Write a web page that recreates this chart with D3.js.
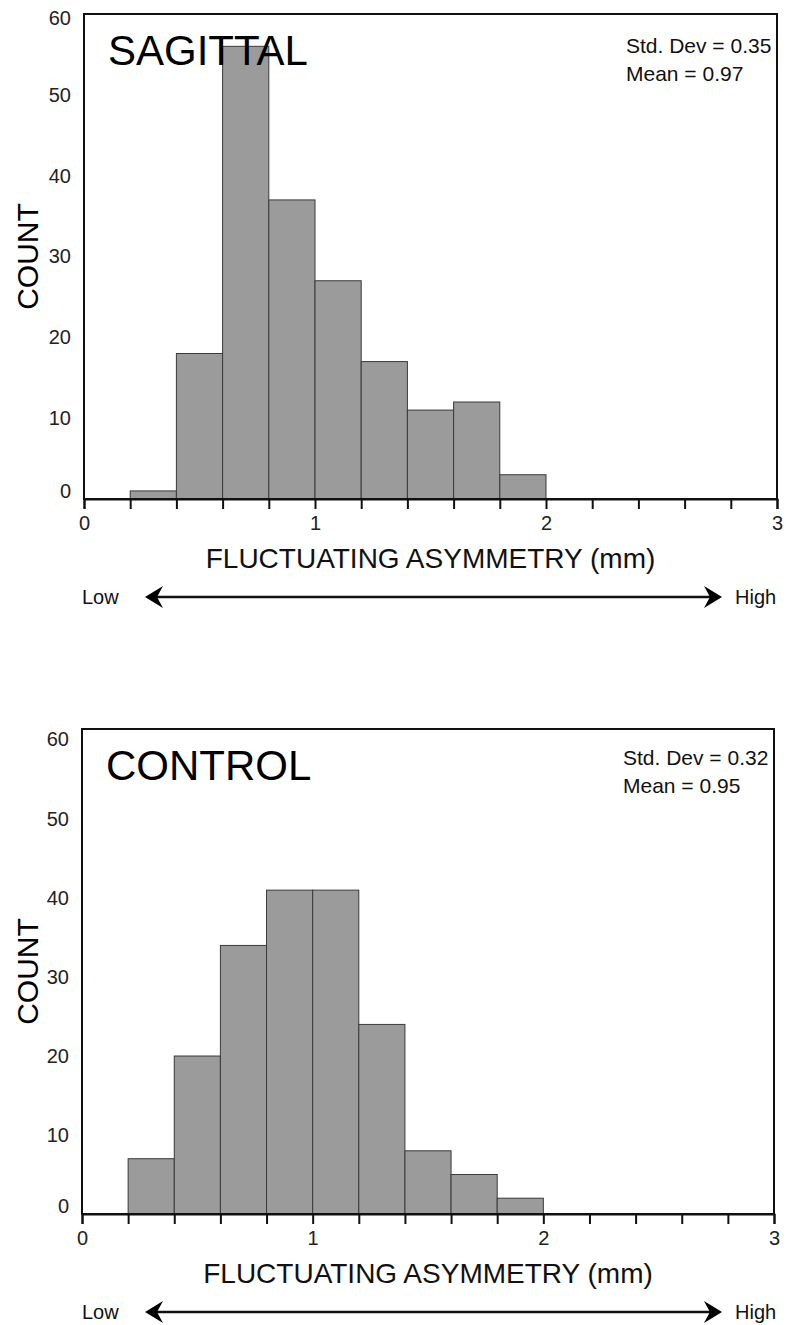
<!DOCTYPE html>
<html>
<head>
<meta charset="utf-8">
<script src="https://cdn.jsdelivr.net/npm/d3@7"></script>
<style>
  body { margin: 0; background: #fff; }
  svg { display: block; font-family: "Liberation Sans", Arial, sans-serif; }
</style>
</head>
<body>
<svg id="chart"></svg>
<script>
// histogram data (bins of 0.2 mm)
const binStart = [0.2, 0.4, 0.6, 0.8, 1.0, 1.2, 1.4, 1.6, 1.8];
const binEnd = [0.4, 0.6, 0.8, 1.0, 1.2, 1.4, 1.6, 1.8, 2.0];
const sagittalCounts = [1, 18, 56, 37, 27, 17, 11, 12, 3];
const controlCounts = [7, 20, 34, 41, 41, 24, 8, 5, 2];

const sagittalStats = ["Std. Dev = 0.35", "Mean = 0.97"];
const controlStats = ["Std. Dev = 0.32", "Mean = 0.95"];

const yTicks = [0, 10, 20, 30, 40, 50, 60];
const xTickMarks = [0, 0.2, 0.4, 0.6, 0.8, 1, 1.2, 1.4, 1.6, 1.8, 2, 2.2, 2.4, 2.6, 2.8, 3];
const xTickLabels = [0, 1, 2, 3];

const xTitle = "FLUCTUATING ASYMMETRY (mm)";
const yTitle = "COUNT";

const width = 786;
const height = 1325;

const svg = d3.select("#chart")
  .attr("width", width)
  .attr("height", height);

function drawPanel(cfg) {
  const g = svg.append("g");

  const x = d3.scaleLinear()
    .domain([0, 3])
    .range([cfg.left, cfg.right]);

  const y = d3.scaleLinear()
    .domain([0, cfg.yMax])
    .range([cfg.bottom, cfg.top]);

  const data = binStart.map((b, i) => ({ x0: b, x1: binEnd[i], count: cfg.counts[i] }));

  // bars
  g.selectAll("rect.bar")
    .data(data)
    .enter()
    .append("rect")
    .attr("class", "bar")
    .attr("x", d => x(d.x0))
    .attr("y", d => y(d.count))
    .attr("width", d => x(d.x1) - x(d.x0))
    .attr("height", d => y(0) - y(d.count))
    .attr("fill", "#9b9b9b")
    .attr("stroke", "#3a3a3a")
    .attr("stroke-width", 1);

  // frame
  g.append("rect")
    .attr("x", cfg.left)
    .attr("y", cfg.top)
    .attr("width", cfg.right - cfg.left)
    .attr("height", cfg.bottom - cfg.top)
    .attr("fill", "none")
    .attr("stroke", "#111")
    .attr("stroke-width", 2);

  // x axis
  const xAxis = g.append("g")
    .attr("transform", `translate(0,${cfg.bottom})`)
    .call(d3.axisBottom(x)
      .tickValues(xTickMarks)
      .tickSize(10)
      .tickPadding(7)
      .tickFormat(d => xTickLabels.some(v => Math.abs(v - d) < 1e-9) ? d3.format("d")(d) : ""));
  xAxis.select(".domain").attr("stroke", "#111").attr("stroke-width", 2);
  xAxis.selectAll(".tick line").attr("stroke", "#111").attr("stroke-width", 2);
  xAxis.selectAll(".tick text")
    .attr("font-size", 20)
    .attr("font-family", "Liberation Sans, Arial, sans-serif")
    .attr("fill", "#222");

  // y axis labels (no tick marks)
  const yAxis = g.append("g")
    .attr("transform", `translate(${cfg.left},0)`)
    .call(d3.axisLeft(y)
      .tickValues(yTicks)
      .tickSize(0)
      .tickPadding(13)
      .tickFormat(d3.format("d")));
  yAxis.select(".domain").remove();
  yAxis.selectAll(".tick text")
    .attr("font-size", 20)
    .attr("font-family", "Liberation Sans, Arial, sans-serif")
    .attr("fill", "#222")
    .attr("y", d => d === 0 ? -8 : (d === 60 ? cfg.topNudge : 0));

  // panel title
  g.append("text")
    .attr("x", cfg.left + 24)
    .attr("y", cfg.top + 51)
    .attr("font-size", 42)
    .attr("fill", "#000")
    .text(cfg.title);

  // stats
  g.selectAll("text.stat")
    .data(cfg.stats)
    .enter()
    .append("text")
    .attr("class", "stat")
    .attr("x", cfg.right - 151)
    .attr("y", (d, i) => cfg.top + cfg.statTop + i * 28)
    .attr("font-size", 21)
    .attr("fill", "#111")
    .text(d => d);

  // y title
  g.append("text")
    .attr("transform", `translate(38,${(cfg.top + cfg.bottom) / 2}) rotate(-90)`)
    .attr("text-anchor", "middle")
    .attr("font-size", 30)
    .attr("fill", "#000")
    .text(yTitle);

  // x title
  g.append("text")
    .attr("x", (cfg.left + cfg.right) / 2)
    .attr("y", cfg.bottom + 69)
    .attr("text-anchor", "middle")
    .attr("font-size", 28)
    .attr("fill", "#111")
    .text(xTitle);

  // low / high arrow
  const ay = cfg.bottom + 98;
  const ax0 = 145, ax1 = 722;
  g.append("line")
    .attr("x1", ax0 + 8).attr("x2", ax1 - 8)
    .attr("y1", ay).attr("y2", ay)
    .attr("stroke", "#111")
    .attr("stroke-width", 2.5);
  g.append("path")
    .attr("d", `M${ax0},${ay} L${ax0 + 18},${ay - 11} L${ax0 + 12},${ay} L${ax0 + 18},${ay + 11} Z`)
    .attr("fill", "#000");
  g.append("path")
    .attr("d", `M${ax1},${ay} L${ax1 - 18},${ay - 11} L${ax1 - 12},${ay} L${ax1 - 18},${ay + 11} Z`)
    .attr("fill", "#000");

  g.append("text")
    .attr("x", 82)
    .attr("y", ay + 7)
    .attr("font-size", 20)
    .attr("fill", "#111")
    .text("Low");
  g.append("text")
    .attr("x", 735)
    .attr("y", ay + 7)
    .attr("font-size", 20)
    .attr("fill", "#111")
    .text("High");
}

drawPanel({
  title: "SAGITTAL",
  counts: sagittalCounts,
  stats: sagittalStats,
  left: 84, right: 777, top: 14, bottom: 499,
  yMax: 60, topNudge: 4, statTop: 39
});

drawPanel({
  title: "CONTROL",
  counts: controlCounts,
  stats: controlStats,
  left: 82, right: 774, top: 729, bottom: 1214,
  yMax: 61.4, topNudge: -1, statTop: 36
});
</script>
</body>
</html>
